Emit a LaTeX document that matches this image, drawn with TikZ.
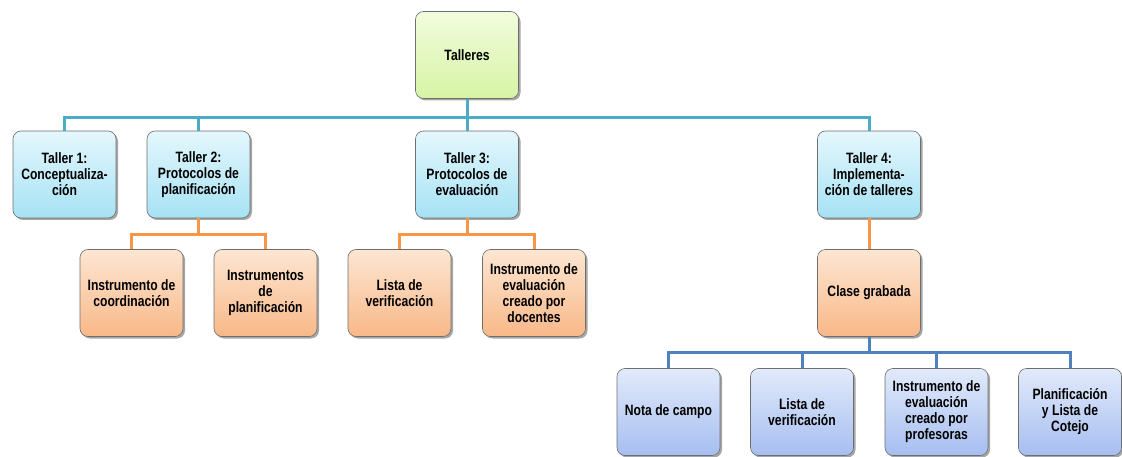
\documentclass[tikz,border=0pt]{standalone}
\usepackage{fontspec}
\setmainfont{Liberation Sans}[FakeStretch=0.81]
\usetikzlibrary{shadows}
\definecolor{gtop}{HTML}{F2FCDD}
\definecolor{gbot}{HTML}{D6F4A4}
\definecolor{ctop}{HTML}{E4F7FD}
\definecolor{cbot}{HTML}{A6E2F4}
\definecolor{otop}{HTML}{FDE6D2}
\definecolor{obot}{HTML}{F8B888}
\definecolor{btop}{HTML}{E2EAFB}
\definecolor{bbot}{HTML}{A6BEF0}
\definecolor{tealc}{HTML}{4BACC6}
\definecolor{orangec}{HTML}{F79646}
\definecolor{bluec}{HTML}{4F81BD}
\definecolor{edgec}{HTML}{6E6E6E}
\tikzset{
  box/.style={draw=edgec, line width=0.6pt, rounded corners=8pt, minimum width=103pt, minimum height=87pt,
    align=center, font=\bfseries\fontsize{15}{16}\selectfont, text=black, inner sep=2pt,
    drop shadow={shadow xshift=2pt, shadow yshift=-2pt, fill=black, opacity=0.35}},
  gbox/.style={box, top color=gtop, bottom color=gbot},
  cbox/.style={box, top color=ctop, bottom color=cbot},
  obox/.style={box, top color=otop, bottom color=obot},
  bbox/.style={box, top color=btop, bottom color=bbot},
  tl/.style={draw=tealc, line width=3pt},
  ol/.style={draw=orangec, line width=3pt},
  bl/.style={draw=bluec, line width=3pt}
}
\begin{document}
\begin{tikzpicture}[x=1pt,y=-1pt]
\useasboundingbox (0,0) rectangle (1122,457);
\node[gbox] (tal) at (467,55) {Talleres};
\node[cbox] (t1) at (64.5,174.5) {Taller 1:\\Conceptualiza-\\ción};
\node[cbox] (t2) at (198.5,174.5) {Taller 2:\\Protocolos de\\planificación};
\node[cbox] (t3) at (467,174.5) {Taller 3:\\Protocolos de\\evaluación};
\node[cbox] (t4) at (869,174.5) {Taller 4:\\Implementa-\\ción de talleres};
\node[obox] (o1) at (131.5,293) {Instrumento de\\coordinación};
\node[obox] (o2) at (265.5,293) {Instrumentos\\de\\planificación};
\node[obox] (o3) at (399.5,293) {Lista de\\verificación};
\node[obox] (o4) at (534,293) {Instrumento de\\evaluación\\creado por\\docentes};
\node[obox] (cg) at (869,293) {Clase grabada};
\node[bbox] (b1) at (668.5,412) {Nota de campo};
\node[bbox] (b2) at (802,412) {Lista de\\verificación};
\node[bbox] (b3) at (936.5,412) {Instrumento de\\evaluación\\creado por\\profesoras};
\node[bbox] (b4) at (1070,412) {Planificación\\y Lista de\\Cotejo};
% teal tree
\draw[tl] (tal.south) -- (tal.south |- 0,118);
\draw[tl] (t1.north) |- (t4.north |- 0,118) -- (t4.north);
\draw[tl] (t2.north) -- (t2.north |- 0,118);
\draw[tl] (t3.north) -- (t3.north |- 0,118);
% orange trees
\draw[ol] (t2.south) -- (t2.south |- 0,235);
\draw[ol] (o1.north) |- (o2.north |- 0,235) -- (o2.north);
\draw[ol] (t3.south) -- (t3.south |- 0,235);
\draw[ol] (o3.north) |- (o4.north |- 0,235) -- (o4.north);
\draw[ol] (t4.south) -- (cg.north);
% blue tree
\draw[bl] (cg.south) -- (cg.south |- 0,352);
\draw[bl] (b1.north) |- (b4.north |- 0,352) -- (b4.north);
\draw[bl] (b2.north) -- (b2.north |- 0,352);
\draw[bl] (b3.north) -- (b3.north |- 0,352);
\end{tikzpicture}
\end{document}
